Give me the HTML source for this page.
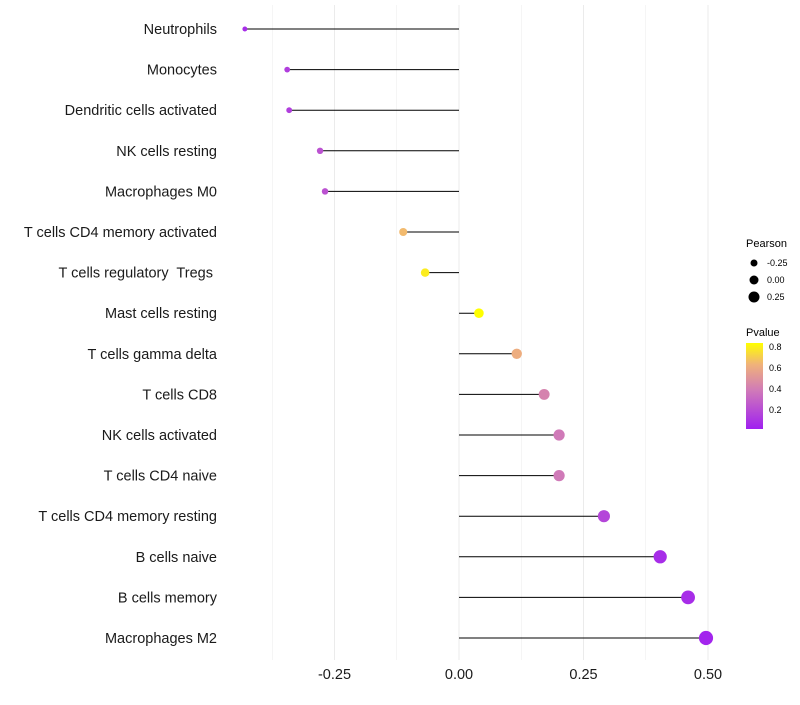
<!DOCTYPE html>
<html><head><meta charset="utf-8"><style>
body{margin:0;background:#fff;font-family:"Liberation Sans",sans-serif}
text{white-space:pre}
</style></head><body>
<svg id="chart" width="800" height="700" xmlns="http://www.w3.org/2000/svg">
<defs><linearGradient id="pg" x1="0" y1="1" x2="0" y2="0">
<stop offset="0" stop-color="#a020f0"/><stop offset="0.45" stop-color="#d07ab8"/><stop offset="0.75" stop-color="#f0b27a"/><stop offset="1" stop-color="#ffff00"/>
</linearGradient></defs>
<g id="grid"></g><g id="marks"></g><g id="labels"></g><g id="xticks"></g>
<g font-size="10" fill="#000">
<text x="746" y="247" font-size="11">Pearson</text>
<circle cx="754" cy="263" r="3.5"/><text x="767" y="266" font-size="9">-0.25</text>
<circle cx="754" cy="280" r="4.5"/><text x="767" y="283" font-size="9">0.00</text>
<circle cx="754" cy="297" r="5.5"/><text x="767" y="300" font-size="9">0.25</text>
<text x="746" y="336" font-size="11">Pvalue</text>
<rect x="746" y="343" width="17" height="86" fill="url(#pg)"/>
<text x="769" y="350" font-size="9">0.8</text>
<text x="769" y="371" font-size="9">0.6</text>
<text x="769" y="392" font-size="9">0.4</text>
<text x="769" y="413" font-size="9">0.2</text>
</g>
</svg>
<script>
const categories=["Neutrophils","Monocytes","Dendritic cells activated","NK cells resting","Macrophages M0","T cells CD4 memory activated","T cells regulatory  Tregs ","Mast cells resting","T cells gamma delta","T cells CD8","NK cells activated","T cells CD4 naive","T cells CD4 memory resting","B cells naive","B cells memory","Macrophages M2"];
const pearson=[-0.43,-0.345,-0.341,-0.279,-0.269,-0.112,-0.068,0.040,0.116,0.171,0.201,0.201,0.291,0.404,0.460,0.496];
const pvalue=[0.05,0.12,0.12,0.2,0.2,0.62,0.75,0.85,0.58,0.4,0.36,0.36,0.15,0.05,0.05,0.02];
const xTicks=[-0.25,0,0.25,0.5];
const xTickLabels=["-0.25","0.00","0.25","0.50"];
const NS="http://www.w3.org/2000/svg";
const xs=v=>459+v*498;
const ys=i=>29+i*40.6;
const rs=v=>4.6+5*v;
function col(p){
 const st=[[0,[160,32,240]],[0.36,[208,122,184]],[0.6,[240,178,122]],[0.8,[255,255,0]]];
 p=Math.max(0,Math.min(0.8,p));
 for(let k=1;k<st.length;k++){if(p<=st[k][0]){const a=st[k-1],b=st[k],t=(p-a[0])/(b[0]-a[0]);
 return "rgb("+a[1].map((c,j)=>Math.round(c+(b[1][j]-c)*t)).join(",")+")";}}
 return "rgb(255,255,0)";
}
function mk(tag,attrs,parent){const e=document.createElementNS(NS,tag);for(const k in attrs)e.setAttribute(k,attrs[k]);document.getElementById(parent).appendChild(e);return e;}
const grid=[-0.375,-0.25,-0.125,0,0.125,0.25,0.375,0.5];
grid.forEach(g=>{const l=mk("line",{x1:xs(g),x2:xs(g),y1:5,y2:660,stroke:"#ebebeb","stroke-width":Number.isInteger(g*4)?1:0.5},"grid");

});
categories.forEach((c,i)=>{
 const y=ys(i);
 const l=mk("line",{x1:xs(0),x2:xs(pearson[i]),y1:y,y2:y,stroke:"#000","stroke-width":1},"marks");
 
 
 const d=mk("circle",{cx:xs(pearson[i]),cy:y,r:rs(pearson[i]),fill:col(pvalue[i])},"marks");
 
 
 const t=mk("text",{x:217,y:y+5,"text-anchor":"end","font-size":14.5,fill:"#1a1a1a"},"labels");
 t.textContent=c;
 
 
});
xTicks.forEach((v,i)=>{const t=mk("text",{x:xs(v),y:679,"text-anchor":"middle","font-size":14.5,fill:"#1a1a1a"},"xticks");
t.textContent=xTickLabels[i];

});
</script>
</body></html>
